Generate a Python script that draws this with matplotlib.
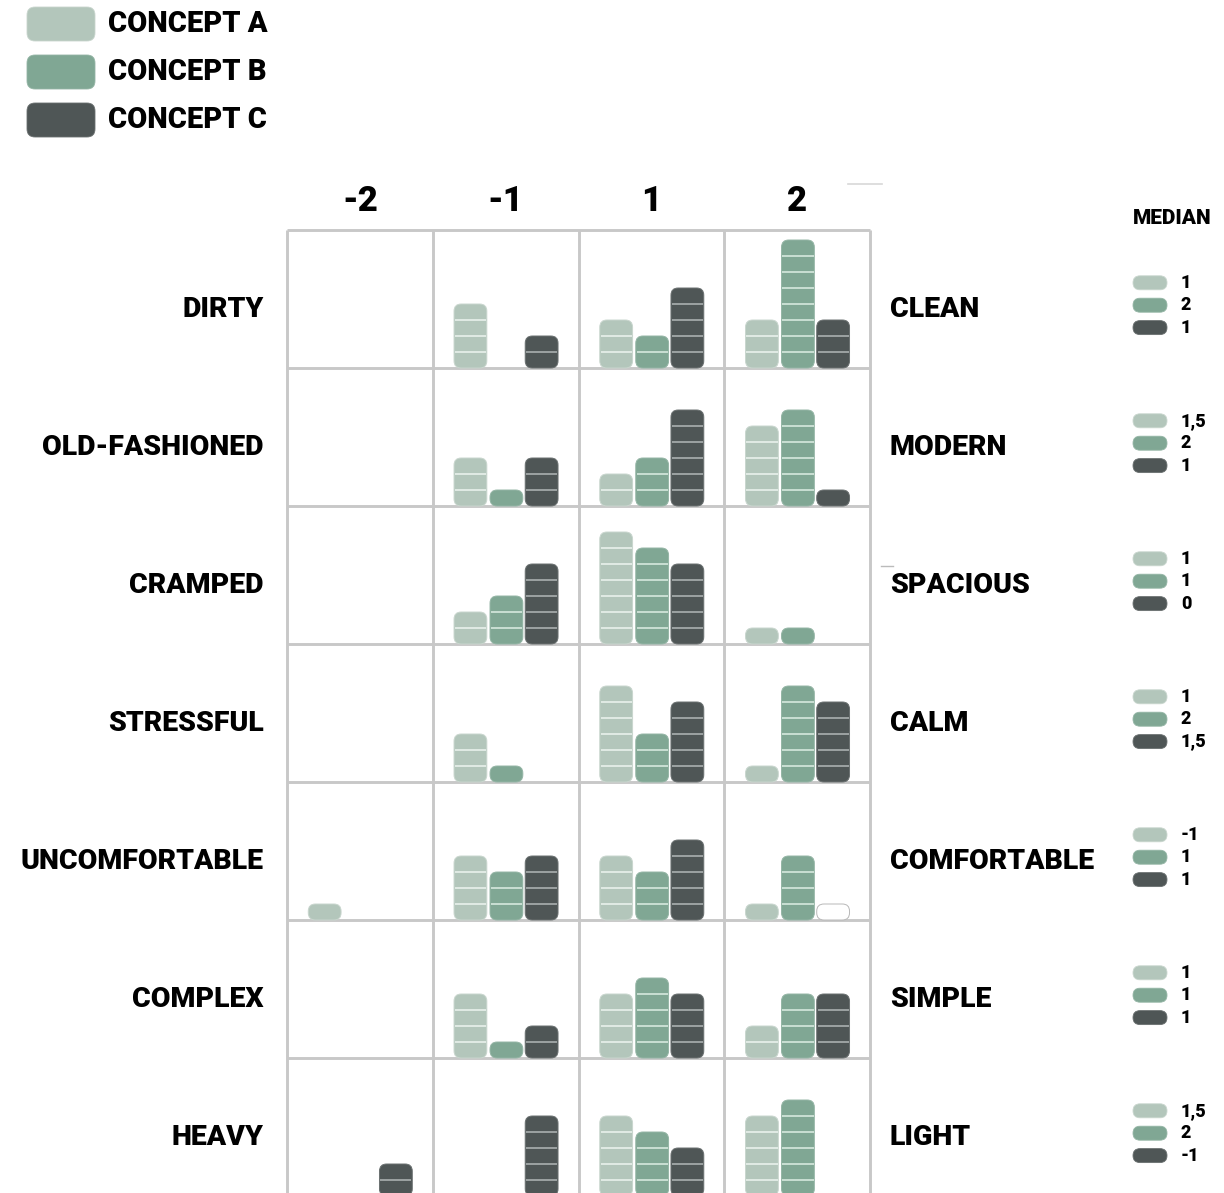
import matplotlib
matplotlib.use("Agg")
import matplotlib.pyplot as plt
from matplotlib.patches import FancyBboxPatch

# ---------------- data ----------------
columns = ["-2", "-1", "1", "2"]
left_labels = ["DIRTY", "OLD-FASHIONED", "CRAMPED", "STRESSFUL",
               "UNCOMFORTABLE", "COMPLEX", "HEAVY"]
right_labels = ["CLEAN", "MODERN", "SPACIOUS", "CALM",
                "COMFORTABLE", "SIMPLE", "LIGHT"]
concepts = ["CONCEPT A", "CONCEPT B", "CONCEPT C"]

# counts per row (pair) and per column (-2, -1, 1, 2)
concept_a = [[0, 4, 3, 3], [0, 3, 2, 5], [0, 2, 7, 1], [0, 3, 6, 1],
             [1, 4, 4, 1], [0, 4, 4, 2], [0, 0, 5, 5]]
concept_b = [[0, 0, 2, 8], [0, 1, 3, 6], [0, 3, 6, 1], [0, 1, 3, 6],
             [0, 3, 3, 4], [0, 1, 5, 4], [0, 0, 4, 6]]
concept_c = [[0, 2, 5, 3], [0, 3, 6, 1], [0, 5, 5, 0], [0, 0, 5, 5],
             [0, 4, 5, 1], [0, 2, 4, 4], [2, 5, 3, 0]]
# a bar drawn empty (white) in the original: (row, column, concept)
hollow_bars = [(4, 3, 2)]

median_a = ["1", "1,5", "1", "1", "-1", "1", "1,5"]
median_b = ["2", "2", "1", "2", "1", "1", "2"]
median_c = ["1", "1", "0", "1,5", "1", "1", "-1"]

# ---------------- style ----------------
colors = ["#b3c6bb", "#80a794", "#4f5656"]
stripe_colors = ["#e8f1ec", "#d6e8de", "#aab0b0"]
edge_colors = ["#c9d6ce", "#94b5a5", "#6a7070"]
grid_color = "#c8c8c8"
FONT = ["Roboto", "DejaVu Sans"]
WEIGHT = "black"
plt.rcParams["font.family"] = FONT

W, H = 1224, 1193
fig = plt.figure(figsize=(W / 100, H / 100), dpi=100)

n_rows, n_cols = len(left_labels), len(columns)
COLW = 145.75 / 16.0      # column width in count units
ROWH = 138.0 / 16.0       # row height in count units
BAR_W = 2.05
RAD = 0.45
offsets = [-2.2, 0.05, 2.25]

gx0, gx1, gy0 = 287, 870, 230
ax = fig.add_axes([gx0 / W, 1 - (gy0 + n_rows * 138) / H,
                   (gx1 - gx0) / W, n_rows * 138 / H])
ax.set_xlim(0, n_cols * COLW)
ax.set_ylim(0, n_rows * ROWH)
ax.axis("off")

# grid
for j in range(n_cols + 1):
    ax.plot([j * COLW, j * COLW], [0, n_rows * ROWH], color=grid_color,
            lw=2.1, clip_on=False, zorder=1, solid_capstyle="butt")
for i in range(n_rows + 1):
    ax.plot([0, n_cols * COLW], [i * ROWH, i * ROWH], color=grid_color,
            lw=2.1, clip_on=False, zorder=1, solid_capstyle="butt")
# small stray strokes present in the original
ax.plot([n_cols * COLW - 1.4, n_cols * COLW + 0.75],
        [n_rows * ROWH + 2.85, n_rows * ROWH + 2.85],
        color="#d8d8d8", lw=1.2, clip_on=False)
ax.plot([n_cols * COLW + 0.7, n_cols * COLW + 1.45],
        [4 * ROWH + 4.85, 4 * ROWH + 4.85],
        color="#bbbbbb", lw=1.0, clip_on=False)


def draw_bar(xc, y0, n, k, hollow=False):
    h = float(n)
    r = min(RAD, h / 2, BAR_W / 2)
    fc = "white" if hollow else colors[k]
    ec = "#b8b8b8" if hollow else edge_colors[k]
    p = FancyBboxPatch((xc - BAR_W / 2, y0), BAR_W, h,
                       boxstyle=f"round,pad=0,rounding_size={r}",
                       fc=fc, ec=ec, lw=0.7, zorder=3, clip_on=False)
    ax.add_patch(p)
    if n > 1 and not hollow:
        ys = [y0 + m for m in range(1, n)]
        ax.hlines(ys, xc - BAR_W / 2 + 0.05, xc + BAR_W / 2 - 0.05,
                  colors=stripe_colors[k], lw=1.2, zorder=4, clip_on=False)


series = [concept_a, concept_b, concept_c]
for r in range(n_rows):
    base = (n_rows - 1 - r) * ROWH
    for j in range(n_cols):
        xc = (j + 0.5) * COLW
        for k, data in enumerate(series):
            n = data[r][j]
            if n > 0:
                draw_bar(xc + offsets[k], base, n, k,
                         hollow=(r, j, k) in hollow_bars)

# column headers
for j, lab in enumerate(columns):
    ax.text((j + 0.5) * COLW, n_rows * ROWH + 1.8, lab, ha="center",
            va="center", fontsize=25, fontweight=WEIGHT, clip_on=False)

# row labels
for r in range(n_rows):
    yc = (n_rows - r) * ROWH - 4.95
    ax.text(-1.45, yc, left_labels[r], ha="right", va="center",
            fontsize=20.5, fontweight=WEIGHT, clip_on=False)
    ax.text(n_cols * COLW + 1.25, yc, right_labels[r], ha="left",
            va="center", fontsize=20.5, fontweight=WEIGHT, clip_on=False)

# median panel
px0 = (1133 - gx0) / 16.0
pw = 34 / 16.0
ph = 14 / 16.0
tx = (1181 - gx0) / 16.0
ax.text(px0, n_rows * ROWH + 0.75, "MEDIAN", ha="left", va="center",
        fontsize=15, fontweight=WEIGHT, clip_on=False)
medians = [median_a, median_b, median_c]
for r in range(n_rows):
    ymid = (n_rows - r) * ROWH - 4.7
    for k in range(3):
        yk = ymid + (1 - k) * 1.4
        p = FancyBboxPatch((px0, yk - ph / 2), pw, ph,
                           boxstyle=f"round,pad=0,rounding_size={ph / 2}",
                           fc=colors[k], ec=edge_colors[k], lw=0.6,
                           clip_on=False, zorder=3)
        ax.add_patch(p)
        ax.text(tx, yk, medians[k][r], ha="left", va="center",
                fontsize=13, fontweight=WEIGHT, clip_on=False)

# legend (top-left)
lax = fig.add_axes([0, 1 - 150 / H, 300 / W, 150 / H])
lax.set_xlim(0, 300)
lax.set_ylim(150, 0)
lax.axis("off")
for k, name in enumerate(concepts):
    y0 = 7 + k * 48
    p = FancyBboxPatch((27, y0), 68, 34,
                       boxstyle="round,pad=0,rounding_size=8",
                       fc=colors[k], ec=edge_colors[k], lw=0.6)
    lax.add_patch(p)
    lax.text(108, y0 + 17, name, ha="left", va="center", fontsize=21,
             fontweight=WEIGHT)

fig.savefig("out.png", dpi=100)
